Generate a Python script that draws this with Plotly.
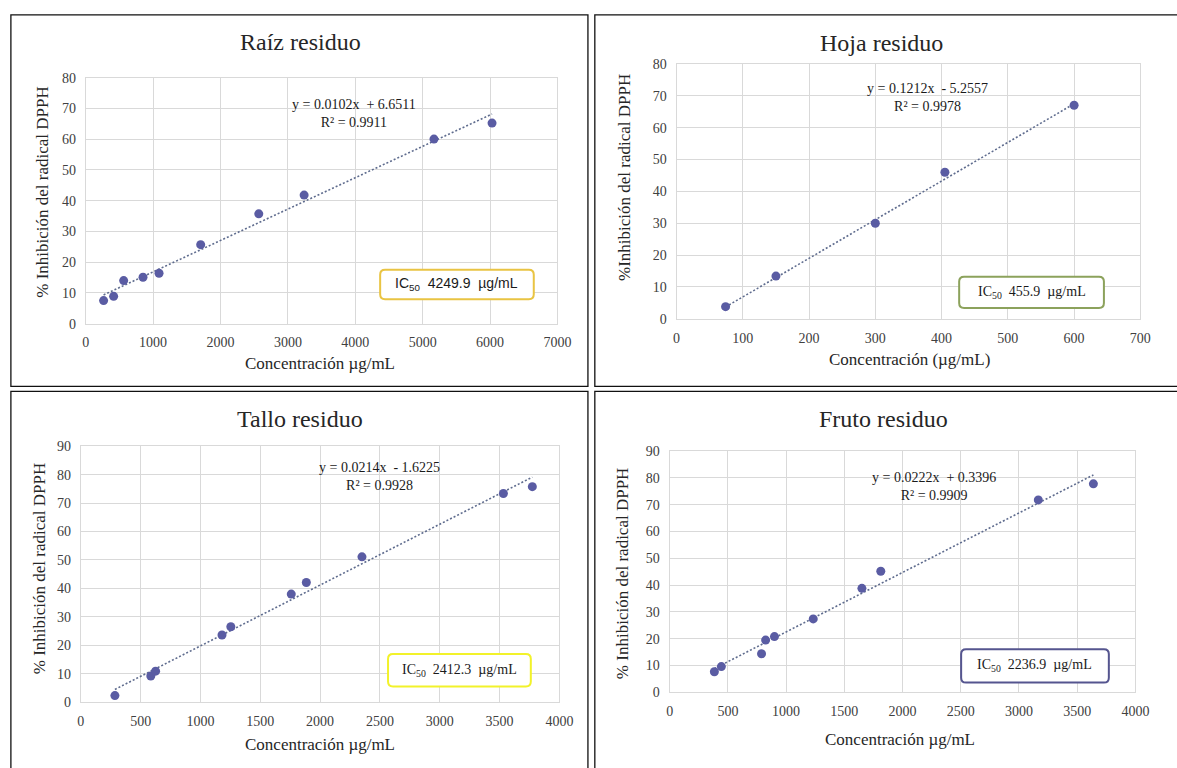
import plotly.graph_objects as go

# ---------------- data ----------------
raiz_x = [265, 414, 563, 850, 1088, 1706, 2568, 3241, 5168, 6030]
raiz_y = [7.5, 8.9, 14.0, 15.1, 16.4, 25.7, 35.7, 41.8, 60.0, 65.2]
raiz_fit = (0.0102, 6.6511)

hoja_x = [74, 150, 300, 405, 600]
hoja_y = [3.8, 13.4, 30.0, 46.0, 67.0]
hoja_fit = (0.1212, -5.2557)

tallo_x = [285, 585, 625, 1180, 1254, 1759, 1885, 2350, 3532, 3774]
tallo_y = [2.3, 9.2, 10.9, 23.6, 26.5, 38.0, 42.1, 51.1, 73.4, 75.8]
tallo_fit = (0.0214, -1.6225)

fruto_x = [384, 444, 789, 824, 900, 1233, 1651, 1813, 3166, 3639]
fruto_y = [7.7, 9.6, 14.4, 19.5, 20.8, 27.4, 38.8, 45.2, 71.8, 77.8]
fruto_fit = (0.0222, 0.3396)

titles = ["Raíz residuo", "Hoja residuo", "Tallo residuo", "Fruto residuo"]
x_titles = ["Concentración µg/mL", "Concentración (µg/mL)",
            "Concentración µg/mL", "Concentración µg/mL"]
y_titles = ["% Inhibición del radical DPPH", "%Inhibición del radical DPPH",
            "% Inhibición del radical DPPH", "% Inhibición del radical DPPH"]
equations = ["y = 0.0102x \u00a0+ 6.6511", "y = 0.1212x \u00a0- 5.2557",
             "y = 0.0214x \u00a0- 1.6225", "y = 0.0222x \u00a0+ 0.3396"]
r2_labels = ["R² = 0.9911", "R² = 0.9978", "R² = 0.9928", "R² = 0.9909"]
ic50_values = ["4249.9", "455.9", "2412.3", "2236.9"]
x_ranges = [(0, 7000, 1000), (0, 700, 100), (0, 4000, 500), (0, 4000, 500)]
y_ranges = [(0, 80, 10), (0, 80, 10), (0, 90, 10), (0, 90, 10)]

# ---------------- layout helpers ----------------
W, H = 1177, 768
def PX(px): return px / W
def PY(py): return 1 - py / H

SERIF = "Liberation Serif, Times New Roman, serif"
SANS = "Liberation Sans, Arial, sans-serif"
MARK = "#5A5CA3"
TREND = "#5F6C8E"
GRID = "#D9D9D9"
TICK = "#404040"

panels = [
    dict(x=raiz_x, y=raiz_y, fit=raiz_fit,
         xd=(83, 562), yd=(72, 323),
         title=(301, 36), xt=(321, 364), yt=(39, 188),
         eq=(355, 109), box=(382, 268, 538, 298), boxcol="#E9C443", boxfont=SANS),
    dict(x=hoja_x, y=hoja_y, fit=hoja_fit,
         xd=(683, 1154), yd=(58, 318),
         title=(891, 37), xt=(920, 360), yt=(630, 174),
         eq=(938, 92), box=(970, 275, 1117, 307), boxcol="#8CA25C", boxfont=SERIF),
    dict(x=tallo_x, y=tallo_y, fit=tallo_fit,
         xd=(78, 564), yd=(448, 709),
         title=(301, 420), xt=(321, 752), yt=(36, 572),
         eq=(381, 479), box=(390, 660, 535, 693), boxcol="#F2F22A", boxfont=SERIF),
    dict(x=fruto_x, y=fruto_y, fit=fruto_fit,
         xd=(676, 1149), yd=(453, 699),
         title=(893, 420), xt=(910, 747), yt=(628, 577),
         eq=(944, 489), box=(972, 655, 1122, 689), boxcol="#55558F", boxfont=SERIF),
]

fig = go.Figure()
annotations = []
shapes = []

def rounded(x0, y0, x1, y1, r):
    pts = [
        f"M {PX(x0 + r)},{PY(y0)}", f"L {PX(x1 - r)},{PY(y0)}",
        f"Q {PX(x1)},{PY(y0)} {PX(x1)},{PY(y0 + r)}", f"L {PX(x1)},{PY(y1 - r)}",
        f"Q {PX(x1)},{PY(y1)} {PX(x1 - r)},{PY(y1)}", f"L {PX(x0 + r)},{PY(y1)}",
        f"Q {PX(x0)},{PY(y1)} {PX(x0)},{PY(y1 - r)}", f"L {PX(x0)},{PY(y0 + r)}",
        f"Q {PX(x0)},{PY(y0)} {PX(x0 + r)},{PY(y0)}", "Z"]
    return " ".join(pts)

def note(text, px, py, **kw):
    d = dict(text=text, x=PX(px), y=PY(py), xref="paper", yref="paper",
             showarrow=False, xanchor="center", yanchor="middle")
    d.update(kw)
    annotations.append(d)

# panel frames (right/bottom edges run off the page as in the reference)
frames = [(7, 8, 593, 387), (600, 8, 1210, 387), (7, 392, 593, 800), (600, 392, 1210, 800)]
for (a, b, c, d) in frames:
    shapes.append(dict(type="rect", xref="paper", yref="paper",
                       x0=PX(a), x1=PX(c), y0=PY(d), y1=PY(b),
                       line=dict(color="#111111", width=1.3), layer="above"))

for i, p in enumerate(panels):
    n = "" if i == 0 else str(i + 1)
    xa, ya = "x" + n, "y" + n
    xr, yr = x_ranges[i], y_ranges[i]
    m, b = p["fit"]
    xs = [min(p["x"]), max(p["x"])]
    fig.add_trace(go.Scatter(x=xs, y=[m * v + b for v in xs], mode="lines",
                             xaxis=xa, yaxis=ya, showlegend=False,
                             line=dict(color=TREND, width=1.6, dash="2px,2px")))
    fig.add_trace(go.Scatter(x=p["x"], y=p["y"], mode="markers", xaxis=xa, yaxis=ya,
                             marker=dict(color=MARK, size=9), showlegend=False))
    axcommon = dict(showgrid=True, gridcolor=GRID, gridwidth=1, zeroline=False,
                    showline=True, linecolor=GRID, linewidth=1, mirror=True,
                    ticks="outside", ticklen=6, tickcolor="rgba(0,0,0,0)",
                    tickfont=dict(family=SERIF, size=14, color=TICK))
    fig.update_layout(**{
        ("xaxis" + n): dict(domain=[PX(p["xd"][0]), PX(p["xd"][1])],
                            range=[xr[0], xr[1]], dtick=xr[2], tick0=0,
                            anchor=ya, **axcommon),
        ("yaxis" + n): dict(domain=[PY(p["yd"][1]), PY(p["yd"][0])],
                            range=[yr[0], yr[1]], dtick=yr[2], tick0=0,
                            anchor=xa, **axcommon),
    })
    note(titles[i], *p["title"], font=dict(family=SERIF, size=24, color="#262626"))
    note(x_titles[i], *p["xt"], font=dict(family=SERIF, size=17, color="#262626"))
    note(y_titles[i], *p["yt"], textangle=-90,
         font=dict(family=SERIF, size=17, color="#262626"))
    note(equations[i] + "<br>" + r2_labels[i], *p["eq"], align="center",
         font=dict(family=SERIF, size=14, color="#1a1a1a"))
    bx0, by0, bx1, by1 = p["box"]
    shapes.append(dict(type="path", xref="paper", yref="paper",
                       path=rounded(bx0, by0, bx1, by1, 5),
                       line=dict(color=p["boxcol"], width=2), fillcolor="white",
                       layer="above"))
    note("IC<sub>50</sub>\u00a0\u00a0" + ic50_values[i] + "\u00a0\u00a0µg/mL",
         (bx0 + bx1) / 2, (by0 + by1) / 2,
         font=dict(family=p["boxfont"], size=14, color="#1a1a1a"))

fig.update_layout(width=W, height=H, margin=dict(l=0, r=0, t=0, b=0),
                  paper_bgcolor="white", plot_bgcolor="white",
                  annotations=annotations, shapes=shapes)

fig.write_html("out.html")
